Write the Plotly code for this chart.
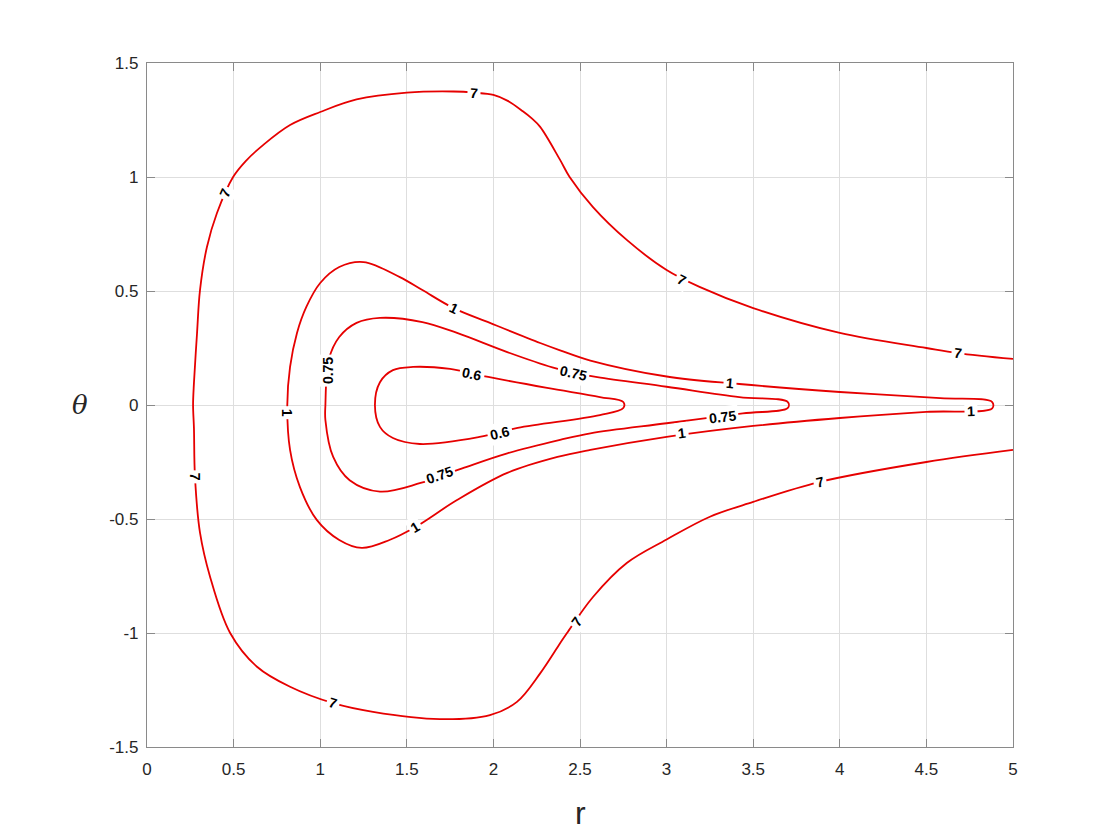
import plotly.graph_objects as go

# contour levels (r, theta)
r_7 = [5.0, 4.68, 4.5, 4.0, 3.5, 3.19, 3.0, 2.77, 2.575, 2.44, 2.385, 2.27, 2.22, 2.17, 2.08,
       2.0, 1.89, 1.77, 1.5, 1.21, 1.0, 0.826, 0.67, 0.57, 0.497, 0.404, 0.346, 0.306, 0.289,
       0.271, 0.266, 0.271, 0.277, 0.306, 0.364, 0.48, 0.635, 0.826, 1.075, 1.305, 1.69,
       1.98, 2.136, 2.27, 2.385, 2.425, 2.575, 2.77, 3.0, 3.25, 3.5, 3.886, 4.5, 5.0]
theta_7 = [0.202, 0.228, 0.25, 0.316, 0.425, 0.518, 0.592, 0.724, 0.868, 1.0, 1.075, 1.22,
           1.258, 1.288, 1.335, 1.36, 1.37, 1.375, 1.37, 1.34, 1.285, 1.228, 1.14, 1.07,
           1.0, 0.842, 0.693, 0.504, 0.316, 0.096, 0.0, -0.1, -0.315, -0.56, -0.753, -1.0,
           -1.148, -1.236, -1.308, -1.346, -1.378, -1.36, -1.302, -1.177, -1.045, -1.0,
           -0.842, -0.693, -0.59, -0.49, -0.425, -0.337, -0.25, -0.197]

r_1 = [4.88, 4.58, 4.0, 3.42, 3.0, 2.56, 2.385, 2.27, 1.98, 1.77, 1.59, 1.46, 1.25, 1.11, 1.0,
       0.92, 0.866, 0.826, 0.81, 0.826, 0.883, 0.98, 1.11, 1.24, 1.40, 1.55, 1.79, 2.08,
       2.37, 2.56, 3.0, 3.5, 4.0, 4.5, 4.88, 4.88]
theta_1 = [0.013, 0.03, 0.057, 0.092, 0.125, 0.195, 0.24, 0.272, 0.36, 0.425, 0.504, 0.561,
           0.627, 0.605, 0.535, 0.43, 0.316, 0.167, 0.0, -0.197, -0.36, -0.504, -0.592,
           -0.627, -0.592, -0.535, -0.417, -0.298, -0.228, -0.197, -0.14, -0.092, -0.057,
           -0.03, -0.015, 0.013]

r_075 = [3.70, 3.42, 3.0, 2.6, 2.46, 2.34, 2.08, 1.79, 1.59, 1.345, 1.21, 1.11, 1.05, 1.03,
         1.03, 1.075, 1.17, 1.345, 1.58, 1.82, 2.08, 2.385, 2.56, 3.0, 3.44, 3.70, 3.70]
theta_075 = [0.013, 0.035, 0.08, 0.122, 0.142, 0.165, 0.232, 0.316, 0.364, 0.382, 0.36, 0.298,
             0.2, 0.0, -0.066, -0.228, -0.33, -0.38, -0.342, -0.278, -0.212, -0.153, -0.124,
             -0.08, -0.037, -0.013, 0.013]

r_06 = [2.75, 2.615, 2.31, 1.97, 1.75, 1.536, 1.42, 1.345, 1.316, 1.345, 1.42, 1.576, 1.92,
        2.14, 2.615, 2.75, 2.75]
theta_06 = [0.013, 0.035, 0.075, 0.123, 0.158, 0.167, 0.153, 0.1, 0.0, -0.096, -0.145, -0.171,
            -0.14, -0.1, -0.044, -0.013, 0.013]

# inline labels: text, r, theta, angle
label_text = ["7", "7", "7", "7", "7", "7", "7", "7",
              "1", "1", "1", "1", "1", "1",
              "0.75", "0.75", "0.75", "0.75",
              "0.6", "0.6"]
label_r = [1.89, 0.45, 3.09, 4.68, 0.277, 1.075, 2.48, 3.886,
           1.77, 3.366, 0.81, 1.55, 3.09, 4.76,
           2.46, 1.045, 1.69, 3.32,
           1.876, 2.04]
label_theta = [1.37, 0.93, 0.55, 0.228, -0.315, -1.308, -0.952, -0.337,
               0.425, 0.096, -0.035, -0.535, -0.124, -0.026,
               0.142, 0.153, -0.307, -0.053,
               0.136, -0.123]
label_angle = [4, -66, 27, 7, 90, 17, -54, -12,
               26, 5, 90, -31, -7, -2,
               13, -90, -19, -7,
               12, -14]

fig = go.Figure()
for rr, tt in [(r_7, theta_7), (r_1, theta_1), (r_075, theta_075), (r_06, theta_06)]:
    fig.add_trace(go.Scatter(x=rr, y=tt, mode="lines",
                             line=dict(color="#e60000", width=1.8, shape="spline", smoothing=1.0),
                             showlegend=False, hoverinfo="skip"))

for txt, xx, yy, ang in zip(label_text, label_r, label_theta, label_angle):
    fig.add_annotation(x=xx, y=yy, text="<b>" + txt + "</b>", showarrow=False, textangle=ang,
                       font=dict(family="Liberation Sans", size=14, color="black"),
                       bgcolor="white", borderpad=2)

axis_style = dict(showgrid=True, gridcolor="#dedede", gridwidth=1,
                  showline=True, linecolor="#8a8a8a", linewidth=1.2, mirror="ticks",
                  ticks="inside", ticklen=8, tickcolor="#8a8a8a", zeroline=False,
                  tickfont=dict(family="Liberation Sans", size=17, color="#262626"))

fig.update_xaxes(range=[0, 5], tickvals=[0, 0.5, 1, 1.5, 2, 2.5, 3, 3.5, 4, 4.5, 5],
                 ticktext=["0", "0.5", "1", "1.5", "2", "2.5", "3", "3.5", "4", "4.5", "5"],
                 ticklabelstandoff=6, **axis_style)
fig.update_yaxes(range=[-1.5, 1.5], tickvals=[-1.5, -1, -0.5, 0, 0.5, 1, 1.5],
                 ticktext=["-1.5", "-1", "-0.5", "0", "0.5", "1", "1.5"],
                 ticklabelstandoff=4, **axis_style)

fig.add_annotation(xref="paper", yref="paper", x=0.5, y=-0.0965, text="r", showarrow=False,
                   yanchor="middle", font=dict(family="Liberation Sans", size=32, color="#262626"))
fig.add_annotation(xref="paper", yref="paper", x=-0.0774, y=0.5, text="<i>θ</i>", showarrow=False,
                   xanchor="center", font=dict(family="DejaVu Serif", size=26, color="#262626"))

fig.update_layout(width=1120, height=840, plot_bgcolor="white", paper_bgcolor="white",
                  margin=dict(l=139, r=115, t=55, b=101))

fig.write_html("out.html")
